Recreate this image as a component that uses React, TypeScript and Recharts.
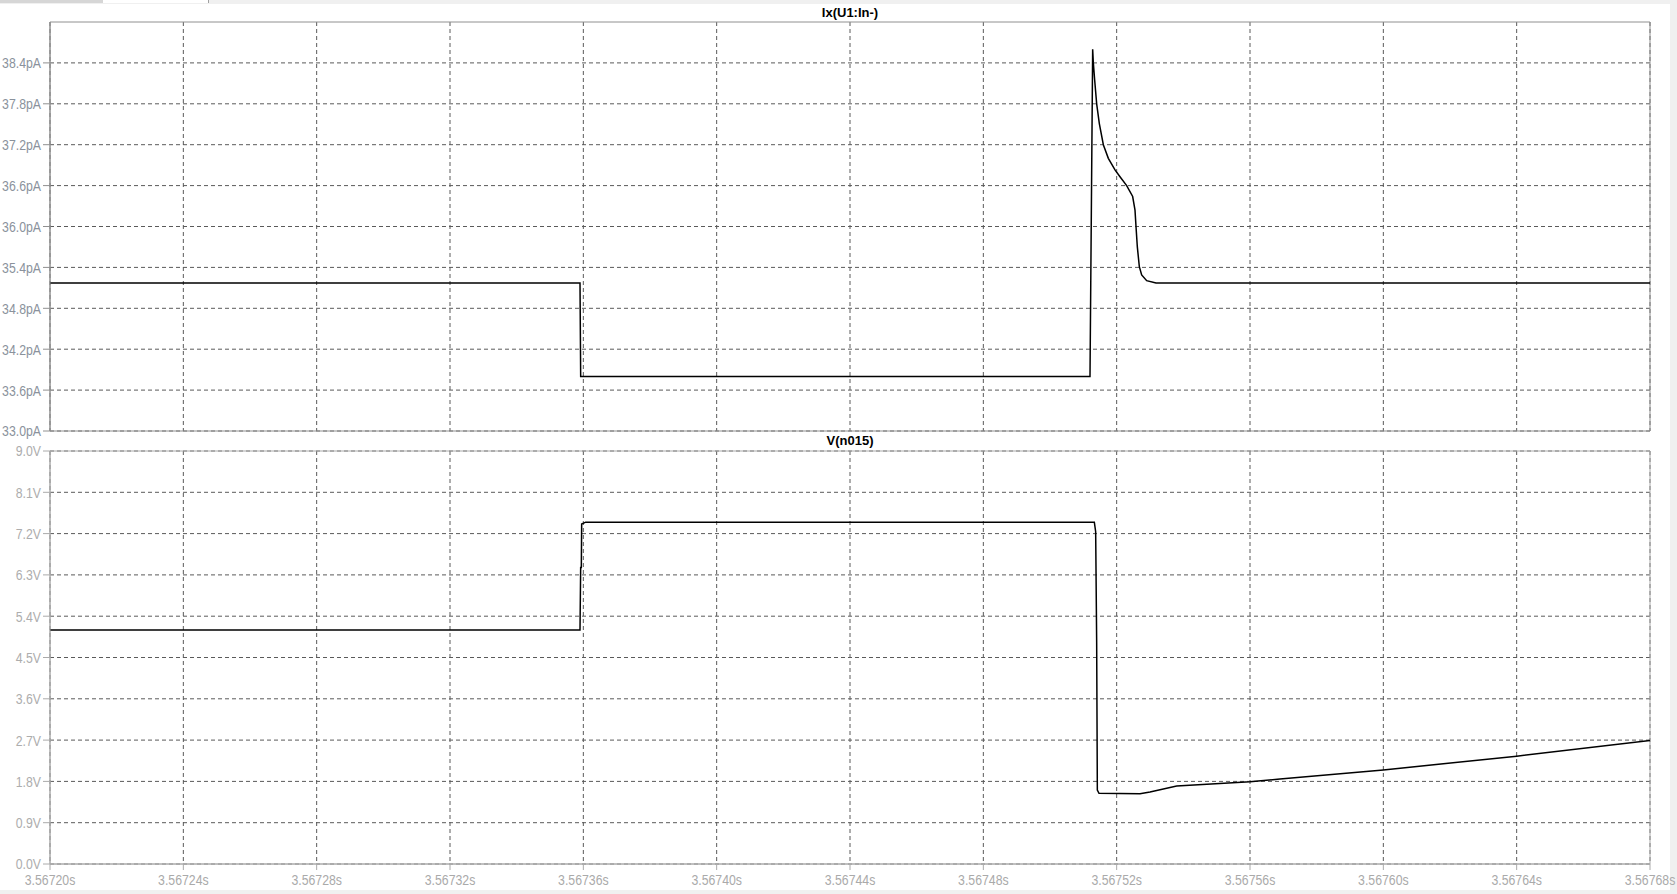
import { LineChart, Line, XAxis, YAxis, CartesianGrid, ReferenceArea } from 'recharts';

// time axis (seconds)
const timeTicks = [
  3.5672, 3.56724, 3.56728, 3.56732, 3.56736, 3.5674, 3.56744,
  3.56748, 3.56752, 3.56756, 3.5676, 3.56764, 3.56768,
];
const currentTicks = [33.0, 33.6, 34.2, 34.8, 35.4, 36.0, 36.6, 37.2, 37.8, 38.4];
const voltageTicks = [0, 0.9, 1.8, 2.7, 3.6, 4.5, 5.4, 6.3, 7.2, 8.1, 9.0];

// Ix(U1:In-) in pA
const currentTimes = [
  3.5672, 3.567359, 3.5673592, 3.567512, 3.5675128, 3.567513, 3.5675134,
  3.567514, 3.5675148, 3.567516, 3.5675175, 3.5675195, 3.567521,
  3.567523, 3.5675248, 3.5675255, 3.5675258, 3.5675262, 3.5675268,
  3.5675275, 3.567529, 3.5675318, 3.56768,
];
const currentValues = [
  35.17, 35.17, 33.8, 33.8, 38.6, 38.4, 38.15,
  37.8, 37.51, 37.2, 37.0, 36.83, 36.73,
  36.6, 36.44, 36.24, 36.0, 35.7, 35.41,
  35.29, 35.205, 35.17, 35.17,
];

// V(n015) in volts
const voltageTimes = [
  3.5672, 3.567359, 3.5673592, 3.5673594, 3.5673595, 3.5673607, 3.5675133,
  3.5675137, 3.567514, 3.5675142, 3.5675147, 3.567527, 3.56753,
  3.567538, 3.56756, 3.567569, 3.5676, 3.56764, 3.56768,
];
const voltageValues = [
  5.1, 5.1, 6.46, 6.46, 7.41, 7.45, 7.45,
  7.24, 4.82, 1.61, 1.54, 1.53, 1.57,
  1.7, 1.79, 1.85, 2.05, 2.35, 2.69,
];

const currentData = currentTimes.map((t, i) => ({ t, v: currentValues[i] }));
const voltageData = voltageTimes.map((t, i) => ({ t, v: voltageValues[i] }));

const T0 = timeTicks[0];
const T1 = timeTicks[timeTicks.length - 1];

const NarrowTick = (props: any) => {
  const { x, y, payload, anchor, fill, fmt, dy } = props;
  return (
    <g transform={`translate(${x},${y})`}>
      <text
        transform="scale(0.82,1)"
        textAnchor={anchor}
        fill={fill}
        fontSize={15}
        fontFamily="'Liberation Sans', Arial, sans-serif"
        dy={dy}
      >
        {fmt(payload.value)}
      </text>
    </g>
  );
};

const titleStyle: React.CSSProperties = {
  position: 'absolute',
  left: 50,
  width: 1600,
  textAlign: 'center',
  fontFamily: "'Liberation Sans', Arial, sans-serif",
  fontWeight: 'bold',
  fontSize: 13,
  lineHeight: '16px',
  color: '#000',
};

export default function App() {
  return (
    <div style={{ position: 'absolute', left: 0, top: 0, width: 1677, height: 894, background: '#f0f0f0', overflow: 'hidden' }}>
      <div style={{ position: 'absolute', left: 0, top: 0, width: 103, height: 3, background: '#d6d6d6' }} />
      <div style={{ position: 'absolute', left: 103, top: 0, width: 105, height: 3, background: '#fff', borderRight: '1px solid #a0a0a0' }} />
      <div style={{ position: 'absolute', left: 0, top: 4, width: 1670, height: 886, background: '#fff' }} />

      <div style={{ ...titleStyle, top: 5 }}>Ix(U1:In-)</div>
      <div style={{ position: 'absolute', left: 0, top: 0 }}>
        <LineChart width={1677} height={440} data={currentData} margin={{ top: 22, right: 27, bottom: 9, left: 0 }}>
          <CartesianGrid
            stroke="#5a5a5a"
            strokeDasharray="4 3"
            verticalValues={timeTicks}
            horizontalValues={currentTicks}
          />
          <XAxis dataKey="t" type="number" domain={[T0, T1]} ticks={timeTicks} allowDataOverflow hide />
          <YAxis
            type="number"
            domain={[33, 39]}
            ticks={currentTicks}
            allowDataOverflow
            width={50}
            stroke="#909090"
            tickSize={7}
            tickMargin={2}
            interval={0}
            tick={<NarrowTick anchor="end" fill="#8a929c" dy="0.36em" fmt={(v: number) => v.toFixed(1) + 'pA'} />}
          />
          <ReferenceArea x1={T0} x2={T1} y1={33} y2={39} fill="none" stroke="#909090" ifOverflow="visible" />
          <Line type="linear" dataKey="v" stroke="#000" strokeWidth={1.5} dot={false} isAnimationActive={false} />
        </LineChart>
      </div>

      <div style={{ ...titleStyle, top: 433 }}>V(n015)</div>
      <div style={{ position: 'absolute', left: 0, top: 430 }}>
        <LineChart width={1677} height={460} data={voltageData} margin={{ top: 21, right: 27, bottom: 0, left: 0 }}>
          <CartesianGrid
            stroke="#5a5a5a"
            strokeDasharray="4 3"
            verticalValues={timeTicks}
            horizontalValues={voltageTicks}
          />
          <XAxis
            dataKey="t"
            type="number"
            domain={[T0, T1]}
            ticks={timeTicks}
            allowDataOverflow
            height={26}
            interval={0}
            stroke="#aaaaaa"
            tickSize={6}
            tickMargin={2}
            tick={<NarrowTick anchor="middle" fill="#aaaaaa" dy={12.5} fmt={(v: number) => v.toFixed(5) + 's'} />}
          />
          <YAxis
            type="number"
            domain={[0, 9]}
            ticks={voltageTicks}
            allowDataOverflow
            width={50}
            stroke="#aaaaaa"
            tickSize={7}
            tickMargin={2}
            interval={0}
            tick={<NarrowTick anchor="end" fill="#adadad" dy="0.36em" fmt={(v: number) => v.toFixed(1) + 'V'} />}
          />
          <ReferenceArea x1={T0} x2={T1} y1={0} y2={9} fill="none" stroke="#aaaaaa" ifOverflow="visible" />
          <Line type="linear" dataKey="v" stroke="#000" strokeWidth={1.5} dot={false} isAnimationActive={false} />
        </LineChart>
      </div>
    </div>
  );
}
